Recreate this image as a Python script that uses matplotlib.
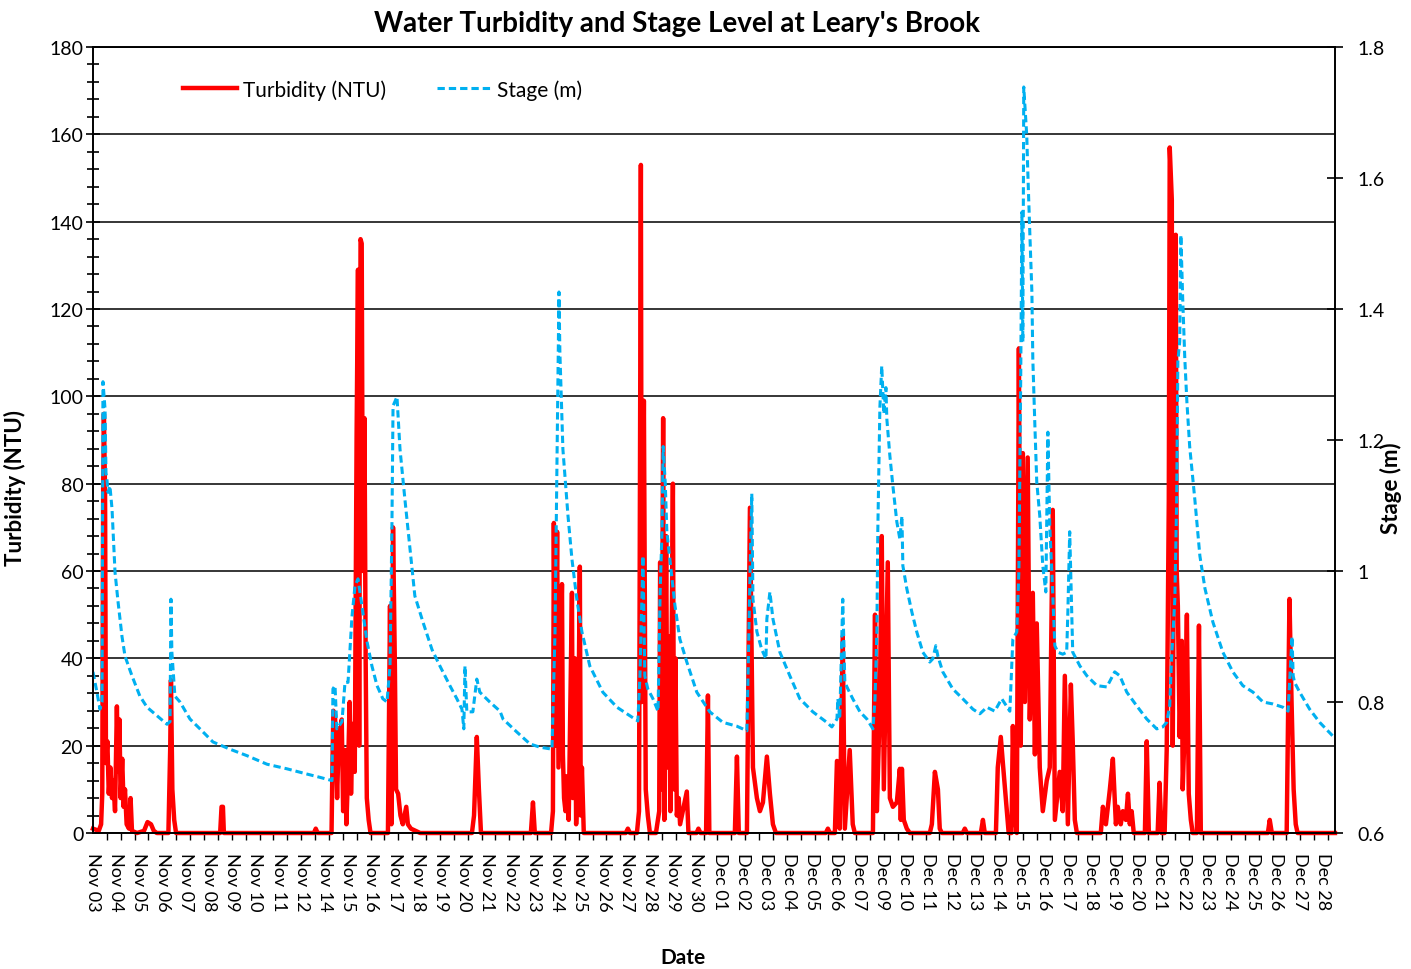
import numpy as np
import matplotlib
matplotlib.use("Agg")
import matplotlib.pyplot as plt
from matplotlib.ticker import MultipleLocator, FuncFormatter

plt.rcParams['font.family'] = ['Lato', 'DejaVu Sans']

# x positions are in "label steps" from the left axis (one step per date label)
date_labels = (
    ["Nov %02d" % d for d in list(range(3, 13)) + list(range(14, 31))]
    + ["Dec %02d" % d for d in list(range(1, 8)) + list(range(9, 29))]
)
x_end = 53.52

# Turbidity (NTU) as (position, value)
turb_nov_early = [(0.00, 1), (0.25, 0.5), (0.35, 2), (0.40, 9), (0.44, 80), (0.47, 96), (0.52, 78),
                  (0.56, 16), (0.62, 21), (0.68, 9), (0.75, 15), (0.82, 8), (0.88, 12), (0.95, 5),
                  (1.03, 29), (1.08, 14), (1.14, 26), (1.19, 8), (1.26, 17), (1.32, 6), (1.38, 10),
                  (1.45, 2), (1.55, 1), (1.62, 8), (1.68, 0.5), (1.90, 0), (2.20, 0.5), (2.35, 2.5),
                  (2.50, 2), (2.62, 0.5), (2.75, 0), (3.25, 0), (3.33, 20), (3.36, 35), (3.42, 10),
                  (3.50, 3), (3.58, 0), (5.48, 0), (5.54, 6), (5.60, 6), (5.64, 0), (9.52, 0),
                  (9.60, 1), (9.68, 0)]
turb_nov_mid = [(10.28, 0), (10.32, 16), (10.36, 28), (10.43, 27), (10.52, 8), (10.60, 24), (10.66, 19),
                (10.72, 26), (10.78, 5), (10.86, 19), (10.92, 2), (10.98, 12), (11.06, 30), (11.12, 9),
                (11.20, 25), (11.28, 14), (11.36, 91), (11.42, 129), (11.47, 20), (11.53, 136),
                (11.58, 135), (11.63, 60), (11.70, 95), (11.75, 40), (11.80, 8), (11.88, 3), (11.96, 0),
                (12.71, 0), (12.80, 52), (12.86, 2), (12.93, 70), (13.01, 38), (13.06, 10), (13.15, 9),
                (13.25, 4), (13.35, 2), (13.50, 6), (13.57, 2), (13.70, 1), (13.90, 0.5), (14.10, 0),
                (16.33, 0), (16.42, 4), (16.54, 22), (16.63, 10), (16.72, 0)]
turb_nov_late = [(18.87, 0), (18.96, 7), (19.04, 0), (19.74, 0), (19.82, 5), (19.86, 71), (19.92, 20),
                 (20.00, 69), (20.06, 15), (20.21, 57), (20.25, 18), (20.30, 8), (20.36, 5), (20.42, 13),
                 (20.50, 3), (20.64, 55), (20.68, 8), (20.77, 40), (20.82, 2), (20.90, 15), (20.98, 61),
                 (21.02, 4), (21.07, 15), (21.15, 0), (22.96, 0), (23.05, 1), (23.14, 0), (23.44, 0),
                 (23.53, 5), (23.61, 153), (23.65, 30), (23.74, 99), (23.82, 10), (23.91, 4), (24.00, 0),
                 (24.26, 0), (24.40, 5), (24.44, 62), (24.50, 10), (24.57, 95), (24.62, 3), (24.70, 68),
                 (24.75, 15), (24.82, 45), (24.88, 5), (24.99, 80), (25.04, 10), (25.10, 40), (25.16, 4),
                 (25.24, 8), (25.30, 2), (25.59, 9.5), (25.66, 0), (26.01, 0), (26.09, 1), (26.18, 0),
                 (26.42, 0), (26.50, 31.5), (26.56, 0)]
turb_dec_early = [(27.66, 0), (27.75, 17.5), (27.83, 0), (28.18, 0), (28.31, 74.5), (28.44, 15),
                  (28.61, 8), (28.74, 5), (28.87, 7), (29.04, 17.5), (29.17, 9), (29.30, 2), (29.43, 0),
                  (31.58, 0), (31.67, 1), (31.75, 0), (31.97, 0), (32.06, 16.5), (32.18, 1),
                  (32.31, 45), (32.40, 1), (32.61, 19), (32.74, 2), (32.83, 0), (33.61, 0), (33.70, 50),
                  (33.78, 5), (33.91, 30), (33.99, 68), (34.08, 10), (34.25, 62), (34.34, 8),
                  (34.47, 6), (34.64, 7), (34.77, 14.7), (34.81, 3), (34.86, 14.7), (34.94, 3),
                  (35.07, 1), (35.20, 0), (36.06, 0), (36.15, 2), (36.28, 14), (36.41, 10), (36.49, 1),
                  (36.58, 0), (37.48, 0), (37.57, 1), (37.66, 0)]
turb_dec_late = [(38.26, 0), (38.35, 3), (38.43, 0), (38.91, 0), (38.99, 15), (39.12, 22), (39.21, 16),
                 (39.38, 5), (39.46, 0), (39.58, 0), (39.64, 24.5), (39.72, 4), (39.81, 0), (39.90, 111),
                 (39.98, 20), (40.07, 87), (40.16, 30), (40.28, 86), (40.37, 26), (40.50, 55),
                 (40.59, 18), (40.67, 48), (40.80, 15), (40.93, 5), (41.10, 12), (41.23, 15),
                 (41.36, 74), (41.45, 3), (41.66, 14), (41.79, 5), (41.88, 36), (42.01, 2), (42.14, 34),
                 (42.22, 21), (42.31, 3), (42.40, 0), (43.43, 0), (43.52, 6), (43.65, 2), (43.82, 10),
                 (43.95, 17), (44.08, 2), (44.16, 6), (44.29, 2), (44.38, 5), (44.51, 3), (44.60, 9),
                 (44.68, 2), (44.76, 5), (44.85, 0), (45.33, 0), (45.41, 21), (45.50, 0), (45.88, 0),
                 (45.96, 11.5), (46.05, 0), (46.18, 0), (46.27, 19), (46.36, 76), (46.40, 157),
                 (46.49, 145), (46.53, 20), (46.62, 108), (46.66, 137), (46.70, 60), (46.75, 52),
                 (46.83, 22), (46.92, 44), (46.96, 10), (47.05, 25), (47.14, 50), (47.22, 9),
                 (47.31, 3), (47.39, 0), (47.57, 0), (47.66, 47.5), (47.74, 0), (50.63, 0), (50.71, 3),
                 (50.80, 0), (51.44, 0), (51.52, 35), (51.56, 53.6), (51.65, 30), (51.74, 10),
                 (51.83, 2), (51.91, 0), (53.52, 0)]

# Stage (m) as (position, value)
stage_nov_early = [(0.00, 0.846), (0.17, 0.815), (0.30, 0.789), (0.39, 0.800), (0.43, 1.289), (0.52, 1.247),
                   (0.56, 1.150), (0.60, 1.140), (0.65, 1.120), (0.73, 1.130), (0.82, 1.095), (0.95, 0.998),
                   (1.08, 0.953), (1.25, 0.900), (1.38, 0.870), (1.68, 0.840), (2.02, 0.809), (2.33, 0.792),
                   (2.76, 0.779), (3.19, 0.766), (3.32, 0.770), (3.36, 0.957), (3.40, 0.876), (3.53, 0.809),
                   (3.75, 0.800), (4.18, 0.774), (4.61, 0.759), (5.17, 0.739), (5.90, 0.728), (6.64, 0.718),
                   (7.50, 0.705), (8.36, 0.698), (9.22, 0.690), (9.78, 0.685), (10.30, 0.680)]
stage_nov_mid = [(10.34, 0.820), (10.43, 0.825), (10.51, 0.759), (10.73, 0.770), (10.86, 0.830), (10.99, 0.830),
                 (11.16, 0.930), (11.29, 0.977), (11.42, 0.988), (11.59, 0.947), (11.81, 0.892), (12.02, 0.855),
                 (12.24, 0.825), (12.49, 0.805), (12.67, 0.800), (12.80, 0.855), (12.88, 1.060), (12.93, 1.252),
                 (13.10, 1.266), (13.23, 1.186), (13.44, 1.110), (13.66, 1.034), (13.87, 0.962), (14.22, 0.922),
                 (14.61, 0.880), (14.95, 0.855), (15.38, 0.825), (15.68, 0.805), (15.90, 0.789), (15.98, 0.759),
                 (16.03, 0.855), (16.11, 0.785), (16.37, 0.785), (16.54, 0.835), (16.67, 0.815), (17.10, 0.800),
                 (17.54, 0.786), (17.67, 0.774), (18.27, 0.754), (18.83, 0.736), (19.26, 0.731), (19.78, 0.728)]
stage_nov_late = [(19.91, 0.907), (20.08, 1.426), (20.12, 1.334), (20.25, 1.186), (20.47, 1.084), (20.64, 1.018),
                  (20.85, 0.957), (21.07, 0.907), (21.41, 0.855), (21.97, 0.815), (22.58, 0.792), (23.14, 0.779),
                  (23.48, 0.771), (23.57, 0.840), (23.70, 1.023), (23.78, 0.840), (23.91, 0.820), (24.13, 0.805),
                  (24.35, 0.786), (24.44, 0.968), (24.52, 1.060), (24.57, 1.190), (24.66, 1.135), (24.73, 1.060),
                  (24.86, 1.018), (25.08, 0.947), (25.29, 0.896), (25.59, 0.861), (26.02, 0.815), (26.58, 0.785),
                  (27.14, 0.769), (27.75, 0.763), (28.18, 0.756)]
stage_dec_early = [(28.31, 0.988), (28.39, 1.118), (28.44, 0.957), (28.61, 0.907), (28.82, 0.880), (29.00, 0.866),
                   (29.04, 0.927), (29.17, 0.968), (29.30, 0.927), (29.60, 0.876), (30.03, 0.840), (30.46, 0.805),
                   (31.02, 0.785), (31.62, 0.769), (31.84, 0.762), (32.06, 0.774), (32.10, 0.805), (32.18, 0.774),
                   (32.31, 0.957), (32.40, 0.830), (32.53, 0.820), (32.74, 0.805), (33.05, 0.785), (33.35, 0.774),
                   (33.61, 0.759), (33.70, 0.805), (33.78, 0.907), (33.82, 1.060), (33.91, 1.250), (33.99, 1.313),
                   (34.08, 1.240), (34.17, 1.280), (34.21, 1.232), (34.34, 1.176), (34.47, 1.130), (34.64, 1.075),
                   (34.77, 1.049), (34.86, 1.084), (34.90, 1.008), (35.07, 0.973), (35.29, 0.937), (35.50, 0.907),
                   (35.76, 0.876), (36.06, 0.861), (36.19, 0.866), (36.32, 0.886), (36.41, 0.870), (36.62, 0.846),
                   (37.05, 0.820), (37.48, 0.805), (37.92, 0.789), (38.22, 0.782), (38.52, 0.792), (38.86, 0.786),
                   (39.16, 0.805), (39.51, 0.786)]
stage_dec_late = [(39.64, 0.896), (39.81, 0.907), (39.90, 1.000), (39.98, 1.300), (40.03, 1.548), (40.07, 1.350),
                  (40.11, 1.739), (40.24, 1.664), (40.28, 1.614), (40.37, 1.517), (40.46, 1.426), (40.50, 1.324),
                  (40.59, 1.221), (40.67, 1.136), (40.80, 1.084), (40.93, 1.008), (41.06, 0.968), (41.15, 1.212),
                  (41.23, 1.069), (41.32, 0.998), (41.45, 0.886), (41.58, 0.876), (41.79, 0.873), (41.96, 0.876),
                  (42.01, 0.937), (42.09, 1.060), (42.18, 0.930), (42.22, 0.876), (42.53, 0.855), (42.83, 0.840),
                  (43.26, 0.825), (43.69, 0.823), (44.03, 0.846), (44.25, 0.840), (44.55, 0.815), (44.98, 0.794),
                  (45.41, 0.774), (45.84, 0.759), (46.10, 0.762), (46.27, 0.769), (46.40, 0.794), (46.49, 0.876),
                  (46.53, 0.896), (46.62, 0.957), (46.70, 1.110), (46.75, 1.320), (46.83, 1.350), (46.88, 1.513),
                  (46.92, 1.466), (46.96, 1.415), (47.05, 1.324), (47.14, 1.258), (47.26, 1.190), (47.48, 1.110),
                  (47.70, 1.023), (47.92, 0.973), (48.26, 0.922), (48.69, 0.876), (49.12, 0.846), (49.55, 0.825),
                  (49.99, 0.815), (50.42, 0.800), (50.85, 0.797), (51.28, 0.792), (51.50, 0.786), (51.59, 0.846),
                  (51.67, 0.900), (51.72, 0.840), (51.78, 0.830), (52.00, 0.815), (52.43, 0.789), (52.86, 0.769),
                  (53.43, 0.748), (53.52, 0.746)]

turb = turb_nov_early + turb_nov_mid + turb_nov_late + turb_dec_early + turb_dec_late
stage = stage_nov_early + stage_nov_mid + stage_nov_late + stage_dec_early + stage_dec_late
turb_t, turb_ntu = zip(*turb)
stage_t, stage_m = zip(*stage)

fig = plt.figure(figsize=(14.11, 9.70), dpi=100)
ax = fig.add_axes([0.0659, 0.1402, 0.8802, 0.8103])
ax2 = ax.twinx()

ln1, = ax.plot(turb_t, turb_ntu, color='#FF0000', linewidth=3.2,
               clip_on=False, label='Turbidity (NTU)')
ln2, = ax2.plot(stage_t, stage_m, color='#00B0F0', linewidth=2.2,
                linestyle=(0, (2.4, 1.3)), label='Stage (m)')

ax.set_xlim(0, x_end)
ax.set_ylim(0, 180)
ax2.set_ylim(0.6, 1.8)

# left axis
ax.yaxis.set_major_locator(MultipleLocator(20))
ax.yaxis.set_minor_locator(MultipleLocator(4))
ax.tick_params(axis='y', which='major', direction='inout', length=10, width=1.2,
               labelsize=14, pad=2)
ax.tick_params(axis='y', which='minor', direction='inout', length=9, width=1.2)
ax.grid(axis='y', which='major', color='black', linewidth=1.1)

# x axis: date labels at every step, short marks every 0.6 step
ax.set_xticks(np.arange(len(date_labels)))
ax.set_xticklabels(date_labels, rotation=-90, fontsize=13)
ax.xaxis.set_minor_locator(MultipleLocator(0.598))
ax.tick_params(axis='x', which='major', length=0, pad=14)
ax.tick_params(axis='x', which='minor', direction='out', length=5, width=1.0)

# right axis
ax2.yaxis.set_major_locator(MultipleLocator(0.2))
ax2.yaxis.set_major_formatter(FuncFormatter(lambda v, p: ('%.1f' % v).rstrip('0').rstrip('.')))
ax2.tick_params(axis='y', which='major', direction='inout', length=12, width=1.2,
                labelsize=14, pad=10)

for a in (ax, ax2):
    for s in a.spines.values():
        s.set_color('black')
        s.set_linewidth(1.2)

fig.text(677 / 1411, 1 - 24 / 970, "Water Turbidity and Stage Level at Leary's Brook",
         fontsize=20, fontweight='bold', ha='center', va='center')
ax.set_ylabel('Turbidity (NTU)', fontsize=16, fontweight='bold')
ax.yaxis.set_label_coords(-0.054, 0.44)
ax2.set_ylabel('Stage (m)', fontsize=16, fontweight='bold')
ax2.yaxis.set_label_coords(1.036, 0.44)
fig.text(683 / 1411, 1 - 958 / 970, 'Date', fontsize=15, fontweight='bold',
         ha='center', va='center')

ax.legend([ln1, ln2], ['Turbidity (NTU)', 'Stage (m)'], loc='center left',
          bbox_to_anchor=(0.0725, 0.946), ncol=2, frameon=False, fontsize=15,
          handlelength=2.6, handletextpad=0.3, columnspacing=2.4,
          borderpad=0, borderaxespad=0)

fig.savefig('out.png', dpi=100)
